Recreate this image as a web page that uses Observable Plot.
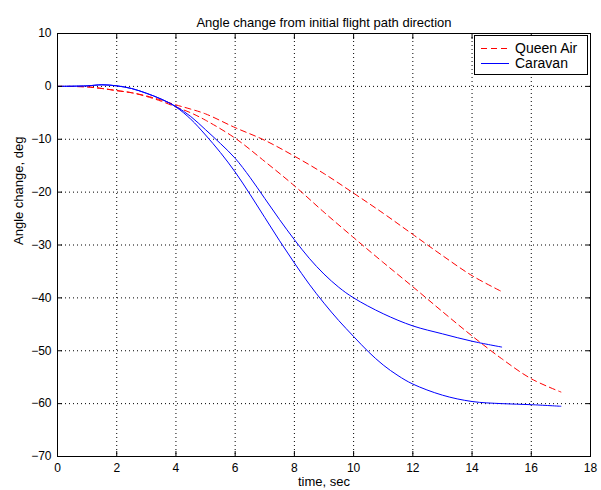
<!DOCTYPE html>
<html><head><meta charset="utf-8">
<script src="https://cdn.jsdelivr.net/npm/d3@7"></script>
<script src="https://cdn.jsdelivr.net/npm/@observablehq/plot@0.6"></script>
<style>body{margin:0;background:#fff}#chart{position:relative;width:601px;height:490px}</style>
</head><body><div id="chart"></div>
<script>
const title = "Angle change from initial flight path direction";
const xLabel = "time, sec";
const yLabel = "Angle change, deg";
const xTicks = [0, 2, 4, 6, 8, 10, 12, 14, 16, 18];
const yTicks = [-70, -60, -50, -40, -30, -20, -10, 0, 10];
const seriesNames = ["Queen Air", "Caravan"];

// Queen Air, run A (ends at 15 s)
const qaA_t = [0, 1, 1.5, 2, 2.5, 3, 3.5, 4, 4.5, 5, 6, 7, 8, 9, 10, 11, 12, 13, 14, 15];
const qaA_v = [0, -0.1, -0.4, -0.8, -1.2, -1.8, -2.6, -3.5, -4.3, -5.2, -7.8, -10.2, -13.2, -16.5, -20.2, -24, -28, -32, -35.8, -38.8];
// Queen Air, run B (ends at 17 s)
const qaB_t = [0, 1, 1.5, 2, 2.5, 3, 3.5, 4, 4.5, 5, 6, 7, 8, 9, 10, 11, 12, 13, 14, 15, 16, 17];
const qaB_v = [0, -0.1, -0.4, -0.8, -1.2, -1.9, -2.8, -3.9, -5, -6.4, -9.8, -14.2, -18.8, -23.8, -28.6, -33.3, -37.9, -42.6, -47.2, -51.5, -55.3, -57.8];
// Caravan, run A (ends at 15 s)
const cvA_t = [0, 1, 1.5, 2, 2.5, 3, 3.5, 4, 4.5, 5, 5.5, 6, 6.5, 7, 7.5, 8, 8.5, 9, 9.5, 10, 11, 12, 13, 14, 15];
const cvA_v = [0, 0.1, 0.3, 0.1, -0.4, -1.3, -2.4, -3.8, -5.7, -8.2, -10.8, -13.6, -17.2, -21.2, -25.2, -29, -32.5, -35.5, -38, -40, -43, -45.3, -46.8, -48.2, -49.3];
// Caravan, run B (ends at 17 s)
const cvB_t = [0, 1, 1.5, 2, 2.5, 3, 3.5, 4, 4.5, 5, 5.5, 6, 6.5, 7, 7.5, 8, 8.5, 9, 9.5, 10, 10.5, 11, 11.5, 12, 13, 14, 15, 16, 17];
const cvB_v = [0, 0.1, 0.3, 0.1, -0.4, -1.3, -2.4, -3.9, -6.2, -9.2, -12.5, -16.2, -20.4, -24.8, -29.2, -33.4, -37.4, -41, -44.3, -47.3, -50.2, -52.7, -54.7, -56.3, -58.4, -59.6, -60, -60.2, -60.5];

function build(series, run, ts, vs) { return ts.map((t, i) => ({series, run, t, v: vs[i]})); }
const queenAir = [...build("Queen Air", "A", qaA_t, qaA_v), ...build("Queen Air", "B", qaB_t, qaB_v)];
const caravan = [...build("Caravan", "A", cvA_t, cvA_v), ...build("Caravan", "B", cvB_t, cvB_v)];

const FONT = "'Liberation Sans', Arial, Helvetica, sans-serif";
const grid = {stroke: "black", strokeOpacity: 1, strokeWidth: 1, strokeDasharray: "1,3"};

const plot = Plot.plot({
  width: 601, height: 490,
  marginLeft: 57, marginRight: 11, marginTop: 33, marginBottom: 34,
  style: {fontFamily: FONT, fontSize: "12px", background: "white", color: "black"},
  x: {domain: [0, 18]},
  y: {domain: [-70, 10]},
  color: {domain: seriesNames, range: ["#ff0000", "#0000ff"]},
  marks: [
    Plot.gridX(xTicks, grid),
    Plot.gridY(yTicks, grid),
    Plot.line(queenAir, {x: "t", y: "v", z: "run", stroke: "series", strokeWidth: 1, strokeDasharray: "6,4", curve: "catmull-rom"}),
    Plot.line(caravan, {x: "t", y: "v", z: "run", stroke: "series", strokeWidth: 1, curve: "catmull-rom"}),
    Plot.frame({stroke: "black", strokeWidth: 1}),
    Plot.axisX(xTicks, {anchor: "bottom", tickSize: -5, tickPadding: 12, label: null, fontSize: 12}),
    Plot.axisX(xTicks, {anchor: "top", tickSize: -5, tickFormat: () => "", label: null}),
    Plot.axisY(yTicks, {anchor: "left", tickSize: -5, tickPadding: 11, label: null, fontSize: 12}),
    Plot.axisY(yTicks, {anchor: "right", tickSize: -5, tickFormat: () => "", label: null}),
    Plot.text([xLabel], {frameAnchor: "bottom", dy: 29, fontSize: 13}),
    Plot.text([yLabel], {frameAnchor: "left", dx: -39, rotate: -90, fontSize: 13}),
    Plot.text([title], {frameAnchor: "top", dy: -16, fontSize: 13})
  ]
});
document.getElementById("chart").appendChild(plot);

// Legend box (top-right inside the axes)
const svg = d3.select(plot);
const lg = svg.append("g").attr("font-family", FONT).attr("font-size", 14).attr("text-anchor", "start");
lg.append("rect").attr("x", 474.5).attr("y", 35.5).attr("width", 113).attr("height", 39).attr("fill", "white").attr("stroke", "black");
const entries = [{name: seriesNames[0], dash: "6,4"}, {name: seriesNames[1], dash: null}];
entries.forEach((e, i) => {
  const y = 48.5 + i * 15;
  lg.append("line").attr("x1", 481).attr("x2", 509).attr("y1", y).attr("y2", y)
    .attr("stroke", i === 0 ? "#ff0000" : "#0000ff").attr("stroke-dasharray", e.dash);
  lg.append("text").attr("x", 515).attr("y", y).attr("dy", "0.35em").attr("text-anchor", "start").text(e.name);
});
</script></body></html>
